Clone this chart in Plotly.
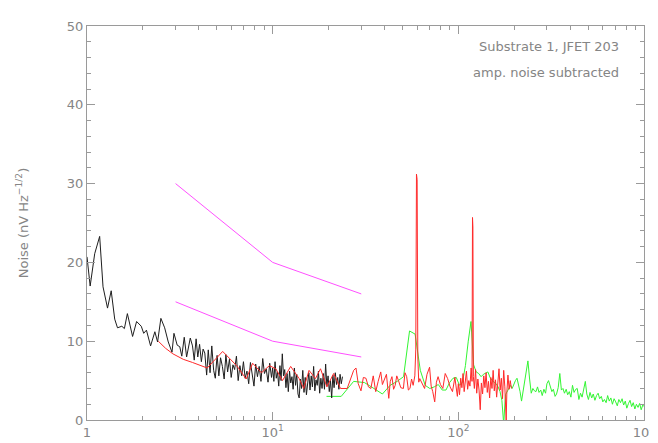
import plotly.graph_objects as go

# ---------------- data ----------------
black_f = [1.00, 1.04, 1.10, 1.17, 1.22, 1.29, 1.35, 1.41, 1.46, 1.54, 1.59, 1.65, 1.76, 1.85,
           1.96, 2.02, 2.09, 2.20, 2.32, 2.40, 2.50, 2.62, 2.74, 2.87, 2.94, 3.06, 3.16, 3.24,
           3.34, 3.44, 3.60,
           3.70, 3.78, 3.87, 3.95, 4.04, 4.13, 4.22, 4.31, 4.41, 4.50, 4.60, 4.70, 4.81, 4.91,
           5.02, 5.13, 5.24, 5.36, 5.48, 5.60, 5.72, 5.85, 5.98, 6.11, 6.24, 6.38, 6.52, 6.66,
           6.81, 6.96, 7.11, 7.27, 7.43, 7.59, 7.76, 7.93, 8.10, 8.28, 8.46, 8.65, 8.84, 9.03,
           9.23, 9.44, 9.64, 9.86,
           10.0, 10.15, 10.3, 10.46, 10.62, 10.78, 10.94, 11.1, 11.27, 11.44, 11.61, 11.79,
           11.96, 12.14, 12.33, 12.51, 12.7, 12.89, 13.09, 13.28, 13.48, 13.69, 13.89, 14.1,
           14.31, 14.53, 14.75, 14.97, 15.2, 15.42, 15.66, 15.89, 16.13, 16.37, 16.62, 16.87,
           17.12, 17.38, 17.64, 17.91, 18.18, 18.45, 18.73, 19.01, 19.29, 19.58, 19.88, 20.18,
           20.48, 20.79, 21.1, 21.42, 21.74, 22.07, 22.4, 22.73, 23.07, 23.42, 23.77]
black_v = [20.7, 17.0, 21.1, 23.3, 16.9, 14.2, 16.4, 12.8, 11.7, 11.9, 11.6, 13.5, 10.6, 12.5,
           11.9, 11.0, 11.4, 9.4, 11.2, 9.9, 12.9, 11.7, 9.9, 8.6, 11.0, 9.5, 9.3, 8.1,
           10.5, 8.0, 10.4,
           9.4, 7.6, 10.3, 8.0, 9.6, 7.4, 9.0, 8.5, 5.7, 8.9, 6.0, 9.4, 6.3, 5.3,
           8.2, 5.6, 7.9, 6.8, 5.2, 8.3, 6.1, 7.7, 5.4, 7.0, 6.4, 8.1, 5.0, 6.9,
           5.6, 7.4, 5.3, 6.2, 4.6, 7.3, 5.8, 4.3, 7.1, 5.5, 6.8, 4.9, 7.8, 5.9,
           6.5, 4.8, 7.2, 5.4,
           6.6, 4.9, 7.4, 5.3, 6.1, 4.3, 6.9, 5.0, 8.4, 5.6, 6.4, 4.1,
           5.9, 3.6, 6.2, 4.7, 5.5, 3.9, 6.6, 4.4, 5.8, 3.3, 2.8, 5.2,
           4.0, 6.3, 3.5, 5.4, 3.2, 4.8, 6.0, 3.8, 5.6, 4.2, 6.8, 3.7,
           5.1, 4.4, 6.2, 3.4, 5.3, 4.0, 5.9, 3.9, 7.1, 4.3, 5.6, 3.6,
           5.0, 2.8, 5.7, 4.1, 6.0, 4.5, 5.4, 3.9, 5.8, 4.6, 5.5]

red_f = [2.42, 2.65, 2.90, 3.30, 3.70, 4.44, 5.38, 6.40, 7.20, 7.80, 8.70, 9.60, 10.4, 11.3,
         12.5, 13.9, 14.7, 15.7, 17.0, 18.1, 19.6, 21.3, 23.2, 25.2,
         27.3, 28.1, 28.9, 29.9, 30.8, 31.8, 32.8, 33.8, 34.8, 35.9, 37.0, 38.2, 39.0, 39.8,
         41.0, 42.2, 43.0, 43.9, 44.8, 45.7, 46.6, 47.6, 49.0, 50.6, 51.6, 52.7, 53.8, 54.9,
         56.0, 57.1, 58.3, 59.0, 59.5, 60.0, 60.5, 61.2, 62.0, 63.8, 65.8, 67.8, 70.0, 71.4,
         72.8, 74.6, 76.2, 77.8, 80.1, 82.5, 85.0, 87.6, 90.3, 93.0, 95.8, 98.8,
         100, 101.5, 103, 104.5, 106, 107.5, 109, 110.6, 112.2, 113.8, 115.5, 117.2, 118.5,
         119.2, 119.8, 120.5, 122, 123.8, 125.6, 127.4, 129.3, 131.2, 133.1, 135.1, 137.1,
         139.1, 141.1, 143.2, 145.3, 147.4, 149.6, 151.8, 154, 156.2, 158.5, 160.8, 163.2,
         165.6, 168, 170.5, 173, 175.5, 178, 179.5, 181, 182.5, 185, 187.7, 190.4, 193.2]
red_v = [10.0, 9.1, 8.4, 7.7, 7.3, 6.6, 8.7, 6.9, 5.2, 7.2, 6.0, 6.9, 6.5, 5.0,
         6.8, 5.25, 4.0, 6.3, 5.25, 6.5, 4.2, 5.9, 4.0, 4.0,
         6.3, 6.6, 4.6, 3.7, 5.4, 5.3, 4.2, 4.0, 5.6, 3.6, 4.9, 6.1, 4.5, 5.0,
         5.8, 2.75, 4.9, 5.5, 3.9, 4.4, 5.6, 5.0, 4.1, 4.0, 6.0, 5.5, 3.8, 4.0,
         5.2, 4.4, 5.6, 9.0, 31.2, 30.5, 8.0, 4.8, 5.25, 4.6, 4.0, 5.8, 6.7, 4.3,
         3.6, 2.3, 4.8, 5.5, 4.5, 4.0, 5.9, 5.25, 4.2, 3.6, 5.4, 3.0,
         4.6, 3.2, 5.3, 4.1, 5.9, 3.6, 4.8, 6.2, 3.9, 5.0, 4.3, 6.6, 4.9,
         25.7, 24.5, 5.5, 4.0, 6.4, 3.4, 5.2, 3.8, 1.3, 4.7, 3.3, 5.6,
         4.1, 6.0, 3.5, 4.9, 2.8, 5.4, 4.0, 6.3, 3.7, 5.1, 2.9, 4.5,
         6.5, 3.8, 5.3, 2.7, 6.3, 4.2, 2.0, 0.0, 3.5, 5.7, 3.9, 5.0, 4.0]

green_f = [19.5, 23.4, 27.3, 31.2, 35.1, 39.0, 42.9, 46.8, 50.7, 54.6, 58.5, 62.4, 66.3,
           70.2, 74.1, 78.0, 81.9, 85.8, 89.7, 93.6, 97.5, 101.4, 105.3, 109.2, 113.1, 117.0,
           120.9, 124.8, 128.7, 132.6, 136.5, 140.4, 144.3, 148.2, 152.1, 156.0, 159.9, 163.8,
           167.7, 171.6, 175.5, 179.4, 183.3, 187.2, 191.1, 195.0, 198.9,
           203, 207, 211, 215, 219, 224, 228, 233, 237, 242, 247, 252, 257, 262, 267, 272,
           278, 283, 289, 295, 300, 306, 313, 319, 325, 332, 338, 345, 352, 359, 366, 373,
           381, 388, 396, 404, 412, 420, 429, 437, 446, 455, 464, 473, 483, 492, 502, 512,
           523, 533, 544, 555, 566, 577, 589, 600, 612, 625, 637, 650, 663, 676, 690, 704,
           718, 732, 747, 762, 777, 793, 808, 825, 841, 858, 875, 893, 910, 929, 947, 966,
           985, 1000]
green_v = [3.0, 3.0, 4.9, 4.75, 4.0, 3.3, 4.4, 4.9, 5.5, 11.3, 10.9, 6.3, 4.4,
           4.0, 4.2, 4.5, 3.8, 3.8, 4.75, 5.3, 5.4, 4.4, 4.8, 6.9, 10.0, 12.5,
           7.0, 6.1, 5.9, 5.5, 5.8, 6.0, 6.1, 5.4, 5.0, 4.8, 4.6, 4.2,
           3.6, 2.5, -0.5, 3.2, 3.6, 4.0, 4.4, 4.0, 4.6,
           5.0, 5.3, 4.6, 3.6, 2.4, 3.9, 4.6, 6.0, 7.5, 5.2, 3.4, 4.0, 3.7, 3.6, 4.2, 3.5,
           3.8, 3.1, 3.9, 3.4, 4.6, 5.0, 4.2, 3.6, 3.9, 3.0, 3.3, 4.1, 5.9, 3.8, 4.0, 3.4,
           3.9, 3.2, 3.6, 2.9, 4.4, 3.5, 3.9, 4.0, 2.6, 3.4, 2.9, 4.1, 4.9, 3.3, 2.6, 3.5,
           2.8, 3.3, 2.5, 3.1, 3.4, 2.7, 3.0, 2.3, 2.6, 2.2, 3.1, 2.4, 2.8, 2.0, 2.7, 2.3,
           1.8, 2.6, 2.2, 2.7, 1.9, 2.4, 1.5, 2.1, 2.5, 1.7, 2.2, 1.4, 2.0, 1.6, 2.1, 1.3,
           1.9, 1.7]

mag_f = [3, 10, 30]
mag_hi = [30, 20, 16]
mag_lo = [15, 10, 8]

x_tickvals = [1, 10, 100, 1000]
x_ticktext = ["1", "10<sup>1</sup>", "10<sup>2</sup>", "10<sup>3</sup>"]
y_tickvals = [0, 10, 20, 30, 40, 50]

note_lines = ["Substrate 1, JFET 203", "amp. noise subtracted"]
x_title = "Frequency (Hz)"
y_title = "Noise (nV Hz<sup>\u22121/2</sup>)"

# ---------------- figure ----------------
FONT = "DejaVu Sans"
TXT = "#858585"
AX = "#9a9a9a"
FS = 13

fig = go.Figure()
fig.add_trace(go.Scatter(x=green_f, y=green_v, mode="lines",
                         line=dict(color="#33f533", width=1)))
fig.add_trace(go.Scatter(x=black_f, y=black_v, mode="lines",
                         line=dict(color="#1e1e1e", width=1)))
fig.add_trace(go.Scatter(x=red_f, y=red_v, mode="lines",
                         line=dict(color="#ff2a2a", width=1)))
fig.add_trace(go.Scatter(x=mag_f, y=mag_hi, mode="lines",
                         line=dict(color="#ff50ff", width=1)))
fig.add_trace(go.Scatter(x=mag_f, y=mag_lo, mode="lines",
                         line=dict(color="#ff50ff", width=1)))

W, H = 658, 443
ml, mr, mt, mb = 79, 11, 12, 31
pw, ph = W - ml - mr, H - mt - mb

fig.update_layout(
    width=W, height=H,
    margin=dict(l=ml, r=mr, t=mt, b=mb, pad=0),
    paper_bgcolor="white", plot_bgcolor="white",
    showlegend=False,
    font=dict(family=FONT, size=FS, color=TXT),
    xaxis=dict(type="log", range=[0, 3], tickmode="array",
               tickvals=x_tickvals, ticktext=x_ticktext,
               ticks="inside", ticklen=8, tickcolor=AX, tickwidth=1,
               showline=True, linecolor=AX, linewidth=1, mirror="allticks",
               showgrid=False, zeroline=False,
               tickfont=dict(family=FONT, size=FS, color=TXT),
               minor=dict(ticks="inside", ticklen=4, tickcolor=AX, dtick="D1",
                          showgrid=False)),
    yaxis=dict(range=[0, 50], tickmode="array", tickvals=y_tickvals,
               ticks="inside", ticklen=8, tickcolor=AX, tickwidth=1,
               showline=True, linecolor=AX, linewidth=1, mirror="allticks",
               showgrid=False, zeroline=False,
               tickfont=dict(family=FONT, size=FS, color=TXT),
               minor=dict(ticks="inside", ticklen=4, tickcolor=AX, dtick=2,
                          showgrid=False)),
)

# notes, top right
for i, t in enumerate(note_lines):
    fig.add_annotation(text=t, xref="paper", yref="paper",
                       x=(624 - ml) / pw, y=1 - ((33 + 26 * i) - mt) / ph,
                       xanchor="right", yanchor="middle", showarrow=False,
                       font=dict(family=FONT, size=FS, color=TXT))

# axis titles
fig.add_annotation(text=x_title, xref="paper", yref="paper",
                   x=0.5, y=-(433 - mt - ph) / ph, xanchor="center", yanchor="top",
                   showarrow=False, font=dict(family=FONT, size=FS, color=TXT))
fig.add_annotation(text=y_title, xref="paper", yref="paper",
                   x=(13 - ml) / pw, y=0.5, xanchor="center", yanchor="middle",
                   textangle=-90, showarrow=False,
                   font=dict(family=FONT, size=FS, color=TXT))

fig.write_html("out.html")
